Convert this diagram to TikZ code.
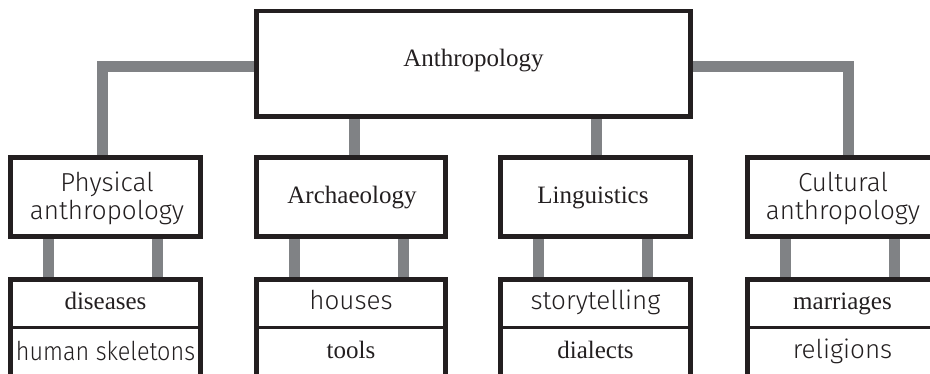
\documentclass[tikz,border=0pt]{standalone}
\usepackage{fontspec}
\setmainfont{Liberation Serif}
\newfontfamily\handfont{Fira Sans Light}
\newfontfamily\handnarrow{Fira Sans Light}[FakeStretch=0.9]
\usetikzlibrary{calc}
\definecolor{ink}{RGB}{35,31,32}
\definecolor{conncol}{RGB}{128,130,133}
\pgfdeclarelayer{bg}
\pgfsetlayers{bg,main}
\begin{document}
\begin{tikzpicture}[x=1pt,y=-1pt,
  box/.style={draw=ink, line width=4.5pt, fill=white, rectangle, inner sep=0pt, outer sep=0pt, minimum width=190pt},
  lvltwo/.style={box, minimum height=79pt},
  lvlthree/.style={box, minimum height=98.5pt},
  divline/.style={draw=ink, line width=3pt},
  conn/.style={draw=conncol, line width=11pt, line join=miter, line cap=butt},
  serif/.style={font=\fontsize{25}{28}\selectfont, text=ink, inner sep=0pt, anchor=base},
  hand/.style={font=\handfont\fontsize{26}{28}\selectfont, text=ink, inner sep=0pt, anchor=base}]
\clip (0,0) rectangle (930,374);
% top
\node[box, minimum width=434pt, minimum height=105.5pt] (top) at (473.5,63.75) {};
% level two
\node[lvltwo] (phys) at (105.5,197) {};
\node[lvltwo, minimum width=189pt] (arch) at (351,197) {};
\node[lvltwo] (ling) at (595.5,197) {};
\node[lvltwo] (cult) at (842.5,197) {};
% level three
\node[lvlthree] (physL) at (105.5,328.75) {};
\node[lvlthree, minimum width=189pt] (archL) at (351,328.75) {};
\node[lvlthree] (lingL) at (595.5,328.75) {};
\node[lvlthree] (cultL) at (842.5,328.75) {};
\foreach \n in {physL,archL,lingL,cultL}{
  \draw[divline] ($(\n.north west)+(0,48.5)$) -- ($(\n.north east)+(0,48.5)$);
}
% texts
\node[serif] (tTop) at (473.5,67) {Anthropology};
\node[hand] (tPhys1) at (107,192) {Physical};
\node[hand] (tPhys2) at (107,220) {anthropology};
\node[serif] (tArch) at (352,204) {Archaeology};
\node[serif] (tLing) at (593,204) {Linguistics};
\node[hand] (tCult1) at (843,192) {Cultural};
\node[hand] (tCult2) at (843,220) {anthropology};
\node[serif] (tDis) at (105.5,310) {diseases};
\node[hand, font=\handnarrow\fontsize{26}{28}\selectfont] (tSkel) at (105.5,360) {human skeletons};
\node[hand] (tHouse) at (351,310) {houses};
\node[serif] (tTools) at (351,359) {tools};
\node[hand] (tStory) at (595.5,310) {storytelling};
\node[serif] (tDial) at (595.5,359) {dialects};
\node[serif] (tMarr) at (842.5,310) {marriages};
\node[hand] (tRel) at (842.5,359) {religions};
% connectors
\begin{pgfonlayer}{bg}
\draw[conn] ($(top.west)+(0,2.75)$) -| ([xshift=-3.5pt]phys.north);
\draw[conn] ($(top.east)+(0,2.75)$) -| ([xshift=6pt]cult.north);
\draw[conn] ([xshift=3pt]arch.north) -- ([xshift=3pt]arch.north |- top.south);
\draw[conn] ([xshift=0.5pt]ling.north) -- ([xshift=0.5pt]ling.north |- top.south);
\foreach \a/\b in {phys/physL,arch/archL,ling/lingL,cult/cultL}{
  \draw[conn] ([xshift=-57pt]\a.south) -- ([xshift=-57pt]\b.north);
  \draw[conn] ([xshift=52pt]\a.south) -- ([xshift=52pt]\b.north);
}
\end{pgfonlayer}
\end{tikzpicture}
\end{document}
